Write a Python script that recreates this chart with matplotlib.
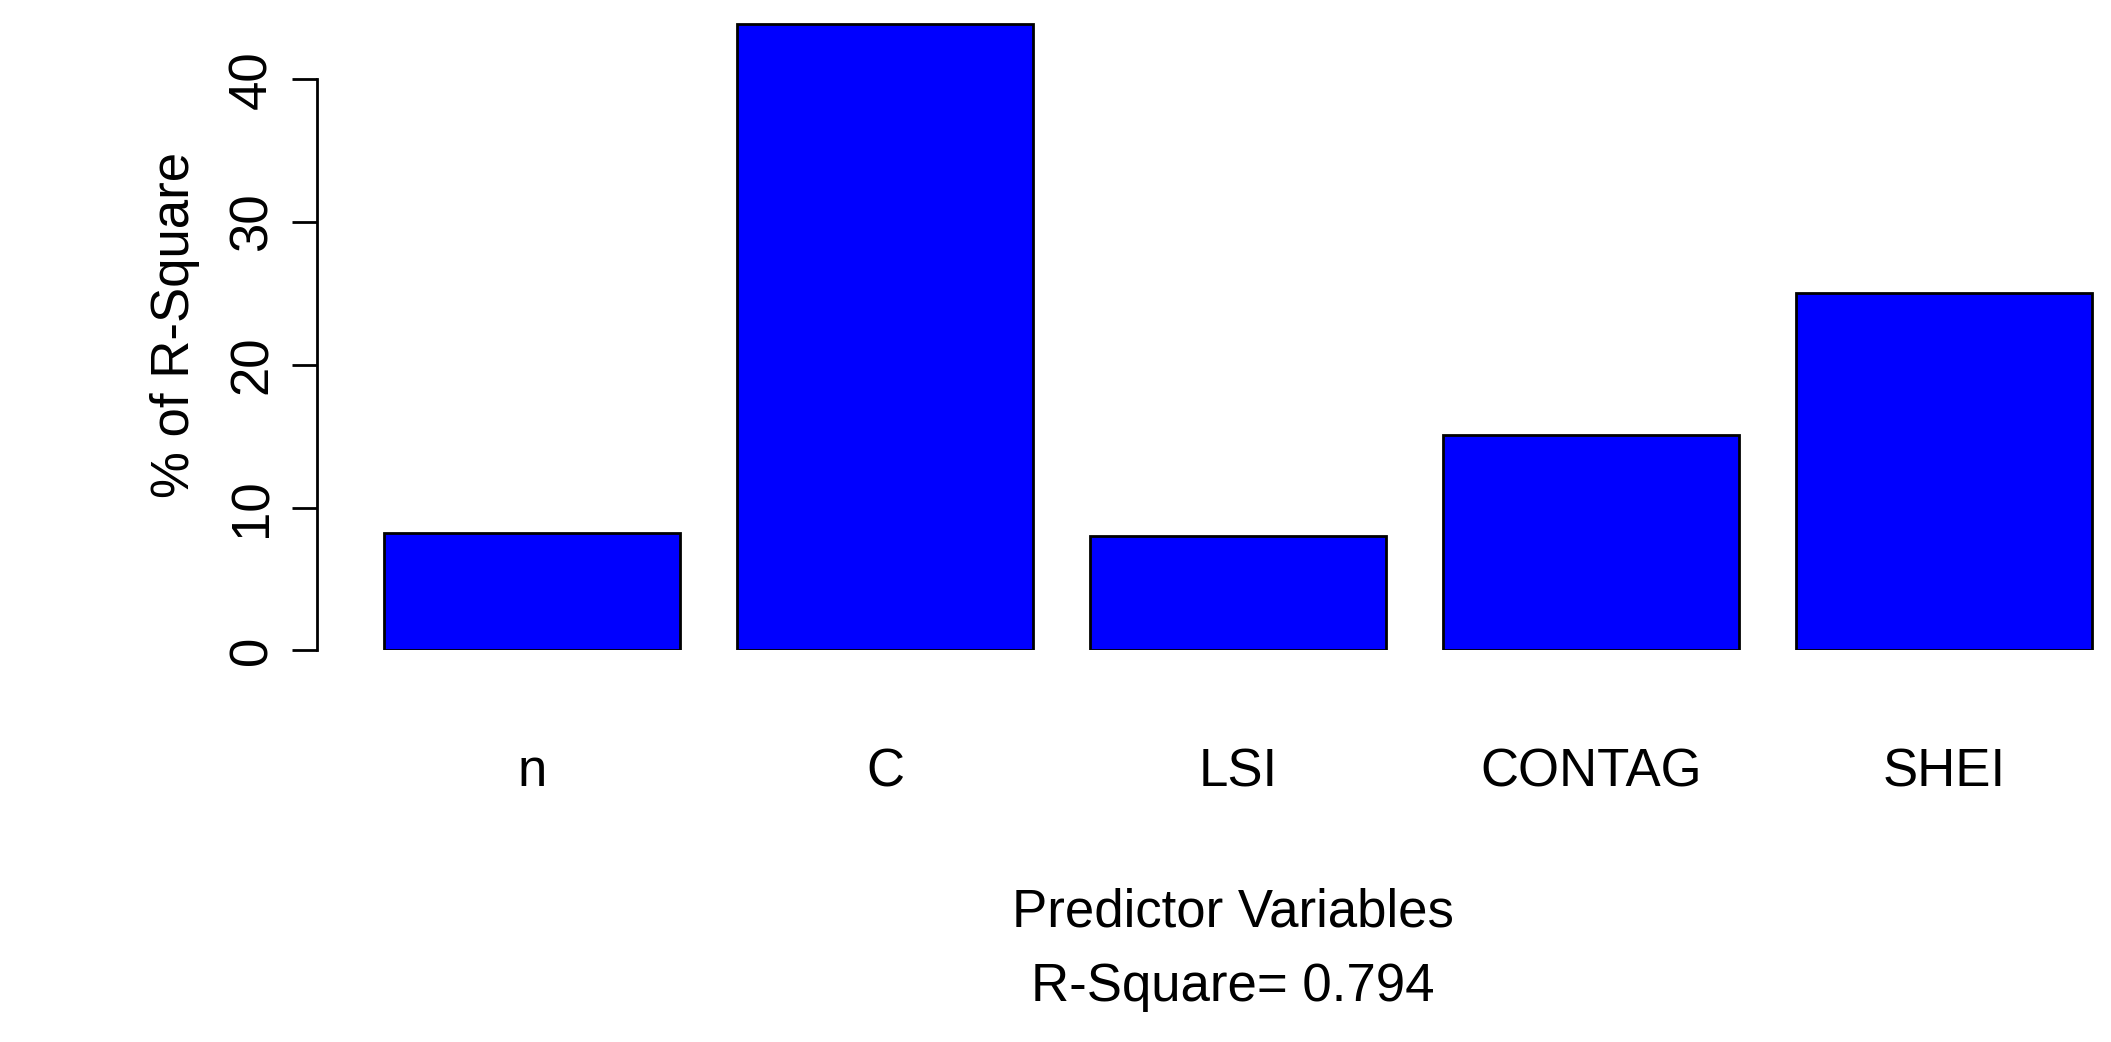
import matplotlib
matplotlib.use('Agg')
import matplotlib.pyplot as plt

categories = ['n', 'C', 'LSI', 'CONTAG', 'SHEI']
pct_r2 = [8.2, 43.9, 8.0, 15.1, 25.0]
y_ticks = [0, 10, 20, 30, 40]
r_square = 0.794

plt.rcParams['font.family'] = ['Liberation Sans', 'DejaVu Sans']

W, H = 1567.0, 774.0  # reference layout units
fig = plt.figure(figsize=(21.11, 10.42), dpi=100)
ax = fig.add_axes([235 / W, (H - 483) / H, 1 - 235 / W, 483 / H])

x = range(len(categories))
ax.bar(x, pct_r2, width=220 / 262, color='#0000ff', edgecolor='black', linewidth=2)
ax.set_xlim((235 - 395) / 262, (W - 395) / 262)
ax.set_ylim(0, 483 / 10.6)

for s in ['top', 'right', 'bottom']:
    ax.spines[s].set_visible(False)
ax.spines['left'].set_bounds(0, 40)
ax.spines['left'].set_linewidth(2)
ax.set_yticks(y_ticks)
ax.set_yticklabels([str(t) for t in y_ticks], rotation=90, va='center', fontsize=38)
ax.tick_params(axis='y', length=18, width=2, pad=10)
ax.set_xticks(list(x))
ax.set_xticklabels(categories, fontsize=38)
ax.tick_params(axis='x', length=0, pad=70)

ax.set_ylabel('% of R-Square', fontsize=38, labelpad=20)
fig.text(915 / W, 1 - 678 / H, 'Predictor Variables', ha='center', va='center', fontsize=38)
fig.text(915 / W, 1 - 733 / H, f'R-Square= {r_square}', ha='center', va='center', fontsize=38)

fig.savefig('out.png', dpi=100)
